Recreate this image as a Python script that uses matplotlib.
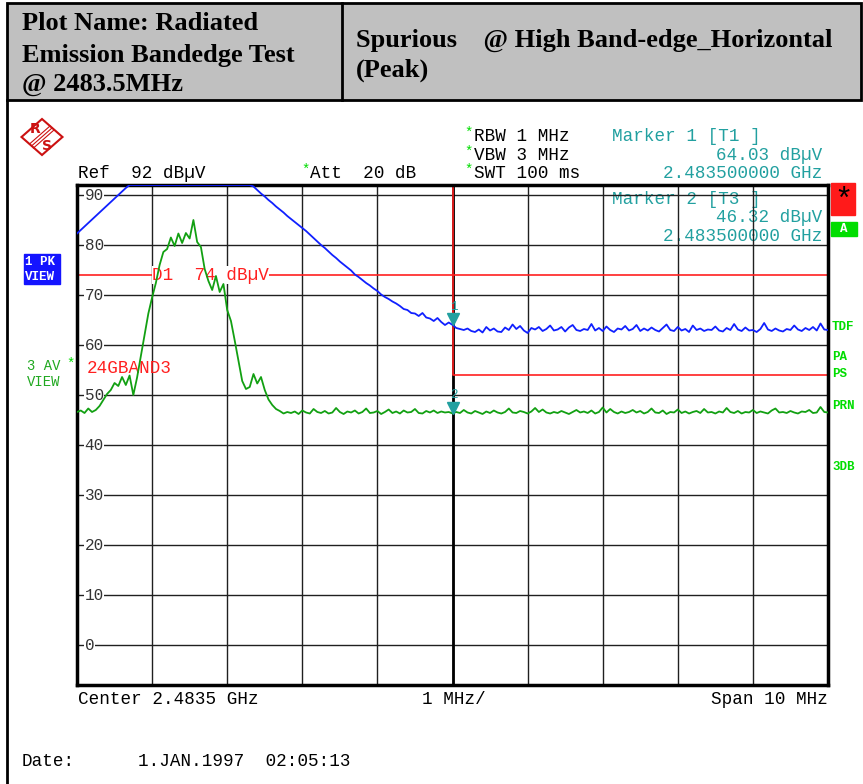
import numpy as np
import matplotlib
matplotlib.use('Agg')
import matplotlib.pyplot as plt
from matplotlib.patches import Rectangle, Polygon
from matplotlib.transforms import offset_copy

'''
Radiated emission band-edge plot (R&S analyzer screen copy)
'''

W, H = 863, 784

# analyzer settings
center_mhz = 2483.5
span_mhz = 10.0
step_mhz = 0.05
ref_level = 92
bottom_level = -8
y_ticks = [90, 80, 70, 60, 50, 40, 30, 20, 10, 0]

d1_limit = 74
band_limit = 54
band_edge = 2483.5

marker_freqs = [2483.5, 2483.5]
marker_vals = [64.03, 46.32]

# trace 1, max peak (dBuV), 0.05 MHz per point
pk_trace = [
    82.3, 83.0, 83.7, 84.4, 85.1, 85.8, 86.5, 87.2, 87.9, 88.6,
    89.3, 90.0, 90.7, 91.4, 92.0,
    92.0, 92.0, 92.0, 92.0, 92.0, 92.0, 92.0, 92.0,
    92.0, 92.0, 92.0, 92.0, 92.0, 92.0, 92.0, 92.0,
    92.0, 92.0, 92.0, 92.0, 92.0, 92.0, 92.0, 92.0,
    92.0, 92.0, 92.0, 92.0, 92.0, 92.0, 92.0, 92.0,
    91.7, 91.0, 90.3, 89.7, 89.0, 88.4, 87.7, 87.1, 86.5, 85.8,
    85.2, 84.6, 84.0, 83.4, 82.8, 82.1, 81.4, 80.7, 80.0, 79.4,
    78.7, 78.0, 77.4, 76.7, 76.1, 75.5, 74.9, 74.1, 73.6, 73.0,
    72.4, 71.9, 71.3, 70.8, 70.1, 69.6, 69.2, 68.7, 68.3, 67.8,
    67.2, 67.0, 66.4, 66.3, 65.8, 66.4, 65.5, 65.3, 64.8, 65.4,
    64.6, 64.0, 64.5, 64.03,
    63.4, 63.2, 63.0, 63.3, 62.8, 62.6, 63.1, 62.5, 63.6, 62.9,
    63.3, 62.7, 62.6, 63.5, 63.0, 64.1, 63.2, 63.8, 62.9, 62.4,
    63.4, 63.1, 63.6, 62.8, 63.2, 63.9, 62.9, 63.1, 63.6, 62.7,
    63.5, 64.0, 63.0, 62.8, 63.2, 63.0, 64.2, 62.9, 63.4, 62.8,
    63.7, 63.0, 62.6, 63.3, 63.1, 63.8, 62.9, 63.2, 64.0, 62.8,
    63.3, 62.9, 63.5, 63.0, 62.7, 63.4, 64.1, 63.0, 62.8, 63.6,
    62.9, 63.2, 62.6, 63.9, 63.0, 63.3, 62.8, 63.1, 63.0, 63.7,
    62.9, 62.7, 63.4, 63.0, 64.2, 63.1, 62.8, 63.5, 62.9, 63.0,
    62.6, 63.2, 64.4, 63.1, 62.8, 63.3, 62.9, 62.7, 63.2, 63.0,
    63.9, 63.1, 62.8, 63.4, 63.0, 63.6, 62.9, 64.3, 63.1, 63.0,
]

# trace 3, average (dBuV)
av_trace = [
    46.6, 46.9, 46.4, 47.3, 46.6, 47.0, 47.8, 49.0, 50.2, 51.0,
    52.4, 51.8, 53.6, 52.0, 53.9, 50.0, 53.5, 57.8, 62.0, 66.3,
    69.5, 72.4, 76.0, 78.6, 79.2, 81.5, 79.8, 82.3, 80.4, 82.4,
    81.3, 85.0, 80.6, 79.6, 75.2, 72.8, 71.0, 73.8, 70.6, 72.2,
    67.0, 64.8, 60.9, 56.8, 52.8, 51.2, 51.6, 54.2, 52.3, 53.6,
    51.0, 49.1, 48.0, 47.2, 46.8, 46.3, 46.6,
    46.4, 46.7, 46.2, 46.9, 46.5, 46.3, 47.2, 46.6, 46.4, 46.8,
    46.3, 46.5, 47.4, 46.6, 46.2, 46.7, 46.5, 46.9, 46.3, 46.6,
    47.3, 46.4, 46.5, 46.8, 46.2, 46.6, 47.1, 46.4, 46.7, 46.3,
    46.9, 46.5, 46.6, 47.2, 46.4, 46.3, 46.8, 46.5, 46.9, 46.4,
    46.7, 46.5, 46.6,
    46.32,
    46.6, 46.4, 47.0, 46.5, 46.3, 46.8, 46.5, 46.2, 46.7, 46.4,
    46.9, 46.5, 46.3, 46.6, 47.3, 46.5, 46.4, 46.8, 46.6, 46.3,
    46.7, 47.4, 46.6, 47.1, 46.5, 46.3, 46.6, 46.4, 46.8, 46.5,
    46.2, 46.6, 47.0, 46.5, 46.7, 46.4, 46.9, 46.3, 46.6, 47.5,
    46.5, 47.2, 46.6, 46.3, 46.7, 46.4, 46.6, 47.0, 46.5, 46.8,
    46.3, 46.6, 47.3, 46.5, 46.4, 46.9, 46.2, 46.6, 46.5, 47.1,
    46.4, 46.7, 46.3, 46.6, 46.8, 46.4, 47.2, 46.5, 46.6, 46.3,
    46.7, 46.5, 47.4, 46.6, 46.4, 46.8, 46.3, 46.6, 46.5, 47.0,
    46.4, 46.7, 46.5, 46.3, 46.9, 47.3, 46.5, 46.6, 46.4, 46.8,
    46.5, 46.3, 46.7, 46.6, 47.0, 46.4, 46.5, 47.6, 46.6, 46.5,
]

MONO = 'Liberation Mono'
SERIF = 'Liberation Serif'
FS = 12.7
teal = '#22a0a0'
red = '#ff2020'
lime = '#00dd00'

f_start = center_mhz - span_mhz / 2
f_stop = center_mhz + span_mhz / 2
freq_pk = f_start + step_mhz * np.arange(len(pk_trace))
freq_av = f_start + step_mhz * np.arange(len(av_trace))

fig = plt.figure(figsize=(W / 100, H / 100), dpi=100)

# background layer in pixel units for the page furniture
bg = fig.add_axes([0, 0, 1, 1])
bg.set_xlim(0, W)
bg.set_ylim(H, 0)
bg.axis('off')


def ptext(x, y, s, color='black', size=FS, family=MONO, **kw):
    kw.setdefault('va', 'center')
    kw.setdefault('ha', 'left')
    bg.text(x, y, s, color=color, fontsize=size, family=family, **kw)


# header table
bg.add_patch(Rectangle((7, 3), 854, 97, fc='#c0c0c0', ec='black', lw=2))
bg.plot([342, 342], [3, 100], color='black', lw=2)
bg.plot([7, 7], [100, H], color='black', lw=2)
for y, s in zip([23, 55, 84], ['Plot Name: Radiated', 'Emission Bandedge Test', '@ 2483.5MHz']):
    ptext(22, y, s, size=19, family=SERIF, weight='bold')
ptext(356, 40, 'Spurious    @ High Band-edge_Horizontal', size=19, family=SERIF, weight='bold')
ptext(356, 70, '(Peak)', size=19, family=SERIF, weight='bold')

# R&S logo
bg.add_patch(Polygon([(21.5, 137), (42, 119), (62.5, 137), (42, 155)], closed=True,
                     fill=False, ec='#cc1111', lw=1.5))
for d in (-2, 0, 2):
    bg.plot([31.5 + d, 52 + d], [146 + d, 128 + d], color='#cc1111', lw=0.8)
ptext(35, 129, 'R', color='#cc1111', size=10, family='DejaVu Sans', weight='bold', ha='center')
ptext(47, 146, 'S', color='#cc1111', size=10, family='DejaVu Sans', weight='bold', ha='center')

# settings text
ptext(78, 173, 'Ref  92 dBµV')
ptext(301, 170, '*', color=lime, size=10)
ptext(310, 173, 'Att  20 dB')
for y, s in zip([136, 155, 173], ['RBW 1 MHz', 'VBW 3 MHz', 'SWT 100 ms']):
    ptext(464, y - 3, '*', color=lime, size=10)
    ptext(474, y, s)
ptext(612, 136, 'Marker 1 [T1 ]', color=teal)
ptext(822, 155, '64.03 dBµV', color=teal, ha='right')
ptext(822, 173, '2.483500000 GHz', color=teal, ha='right')
ptext(612, 199, 'Marker 2 [T3 ]', color=teal)
ptext(822, 217, '46.32 dBµV', color=teal, ha='right')
ptext(822, 236, '2.483500000 GHz', color=teal, ha='right')

# trace labels on the left
bg.add_patch(Rectangle((24, 254), 36, 30, color='#1414ff'))
ptext(25, 262, '1 PK', color='white', size=9, weight='bold')
ptext(25, 277, 'VIEW', color='white', size=9, weight='bold')
ptext(27, 366, '3 AV', color='#20a820', size=10)
ptext(66, 364, '*', color=lime, size=10)
ptext(27, 382, 'VIEW', color='#20a820', size=10)

# status boxes on the right
bg.add_patch(Rectangle((831, 183), 24, 32, color='#ff1a1a'))
ptext(843, 201, '*', size=22, ha='center')
bg.add_patch(Rectangle((831, 222), 26, 14, color=lime))
ptext(844, 229, 'A', color='white', size=9, weight='bold', ha='center')
for y, s in zip([327, 357, 374, 406, 467], ['TDF', 'PA', 'PS', 'PRN', '3DB']):
    ptext(832, y, s, color=lime, size=9, weight='bold')

# footer
ptext(78, 700, 'Center 2.4835 GHz')
ptext(422, 700, '1 MHz/')
ptext(828, 700, 'Span 10 MHz', ha='right')
ptext(22, 762, 'Date:')
ptext(138, 762, '1.JAN.1997  02:05:13')

# analyzer screen
ax = fig.add_axes([77 / W, 1 - 685 / H, 751 / W, 500 / H])
ax.set_facecolor('none')
ax.set_xlim(f_start, f_stop)
ax.set_ylim(bottom_level, ref_level)
ax.set_xticks(f_start + np.arange(11))
ax.set_yticks(y_ticks)
ax.tick_params(length=0, labelbottom=False, labelleft=False)
ax.grid(True, color='#202020', lw=1.0)
ax.set_axisbelow(True)
for sp in ax.spines.values():
    sp.set_linewidth(2.5)
ax.axvline(center_mhz, color='black', lw=2, zorder=1)

for y in y_ticks:
    ax.text(f_start + 0.1, y, str(y), family=MONO, fontsize=11.5, color='#333333',
            va='center', ha='left', zorder=1.5,
            bbox=dict(fc='white', ec='none', pad=0.5))

# display line and limit line
ax.axhline(d1_limit, color=red, lw=1.2, zorder=2)
ax.text(f_start + 1.0, d1_limit, 'D1  74 dBµV', family=MONO, fontsize=FS, color=red,
        va='center', ha='left', zorder=2.1, bbox=dict(fc='white', ec='none', pad=0.3))
ax.plot([band_edge, band_edge, f_stop], [ref_level, band_limit, band_limit], color=red, lw=1.2, zorder=2)
ax.text(f_start + 0.13, band_limit + 1.3, '24GBAND3', family=MONO, fontsize=FS, color=red,
        va='center', ha='left', zorder=2)

ax.plot(freq_av, av_trace, color='#12a012', lw=1.3, zorder=3)
ax.plot(freq_pk, pk_trace, color='#1020ff', lw=1.3, zorder=3)

# markers
tri = offset_copy(ax.transData, fig=fig, x=0, y=4, units='points')
for k, (f, v) in enumerate(zip(marker_freqs, marker_vals)):
    ax.plot(f, v, marker='v', ms=8, color=teal, transform=tri, zorder=4, clip_on=False)
    ax.annotate(str(k + 1), (f, v), xytext=(1, 13), textcoords='offset points',
                ha='center', va='center', color=teal, fontsize=9, family=MONO, zorder=4)

fig.savefig('out.png', dpi=100)
